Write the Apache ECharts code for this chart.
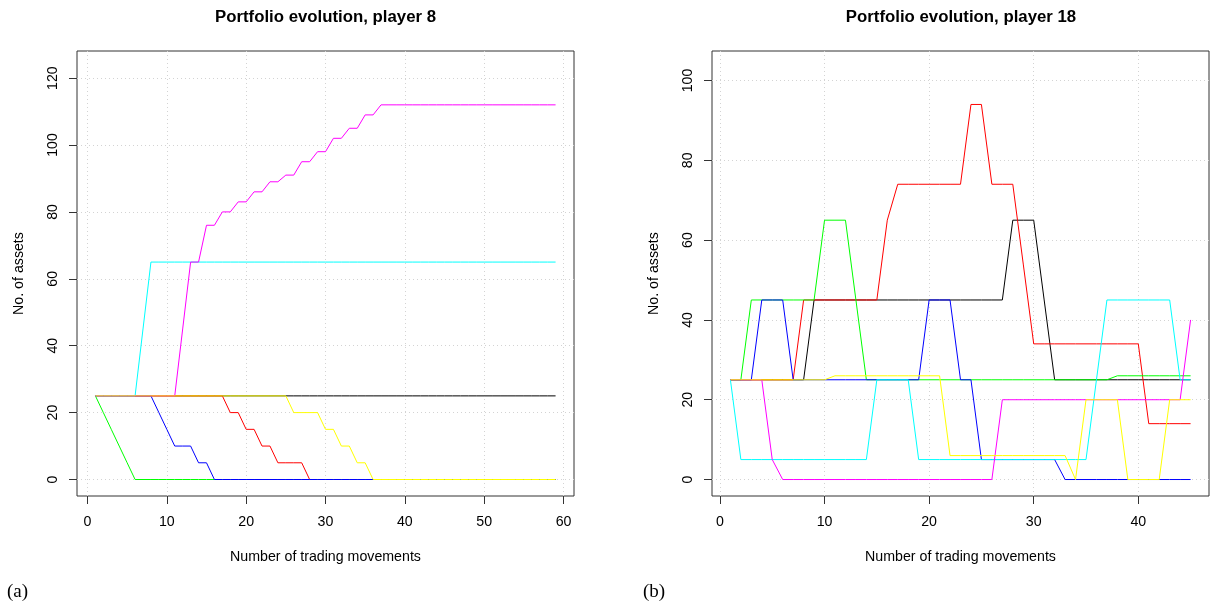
<!DOCTYPE html>
<html>
<head>
<meta charset="utf-8">
<script src="https://cdn.jsdelivr.net/npm/echarts@6/dist/echarts.min.js"></script>
<style>
html,body{margin:0;padding:0;background:#fff;}
#chart{width:1210px;height:603px;}
</style>
</head>
<body>
<div id="chart"></div>
<script>
// ---------- Data: player 8 (panel a), steps 1..59 ----------
const p8_black = [25,25,25,25,25,25,25,25,25,25,25,25,25,25,25,25,25,25,25,25,25,25,25,25,25,25,25,25,25,25,25,25,25,25,25,25,25,25,25,25,25,25,25,25,25,25,25,25,25,25,25,25,25,25,25,25,25,25,25];
const p8_red = [25,25,25,25,25,25,25,25,25,25,25,25,25,25,25,25,25,20,20,15,15,10,10,5,5,5,5,0,0,0,0,0,0,0,0,0,0,0,0,0,0,0,0,0,0,0,0,0,0,0,0,0,0,0,0,0,0,0,0];
const p8_green = [25,20,15,10,5,0,0,0,0,0,0,0,0,0,0,0,0,0,0,0,0,0,0,0,0,0,0,0,0,0,0,0,0,0,0,0,0,0,0,0,0,0,0,0,0,0,0,0,0,0,0,0,0,0,0,0,0,0,0];
const p8_blue = [25,25,25,25,25,25,25,25,20,15,10,10,10,5,5,0,0,0,0,0,0,0,0,0,0,0,0,0,0,0,0,0,0,0,0,0,0,0,0,0,0,0,0,0,0,0,0,0,0,0,0,0,0,0,0,0,0,0,0];
const p8_cyan = [25,25,25,25,25,25,45,65,65,65,65,65,65,65,65,65,65,65,65,65,65,65,65,65,65,65,65,65,65,65,65,65,65,65,65,65,65,65,65,65,65,65,65,65,65,65,65,65,65,65,65,65,65,65,65,65,65,65,65];
const p8_magenta = [25,25,25,25,25,25,25,25,25,25,25,45,65,65,76,76,80,80,83,83,86,86,89,89,91,91,95,95,98,98,102,102,105,105,109,109,112,112,112,112,112,112,112,112,112,112,112,112,112,112,112,112,112,112,112,112,112,112,112];
const p8_yellow = [25,25,25,25,25,25,25,25,25,25,25,25,25,25,25,25,25,25,25,25,25,25,25,25,25,20,20,20,20,15,15,10,10,5,5,0,0,0,0,0,0,0,0,0,0,0,0,0,0,0,0,0,0,0,0,0,0,0,0];

// ---------- Data: player 18 (panel b), steps 1..45 ----------
const p18_black = [25,25,25,25,25,25,25,25,45,45,45,45,45,45,45,45,45,45,45,45,45,45,45,45,45,45,45,65,65,65,45,25,25,25,25,25,25,25,25,25,25,25,25,25,25];
const p18_red = [25,25,25,25,25,25,25,45,45,45,45,45,45,45,45,65,74,74,74,74,74,74,74,94,94,74,74,74,54,34,34,34,34,34,34,34,34,34,34,34,14,14,14,14,14];
const p18_green = [25,25,45,45,45,45,45,45,45,65,65,65,45,25,25,25,25,25,25,25,25,25,25,25,25,25,25,25,25,25,25,25,25,25,25,25,25,26,26,26,26,26,26,26,26];
const p18_blue = [25,25,25,45,45,45,25,25,25,25,25,25,25,25,25,25,25,25,25,45,45,45,25,25,5,5,5,5,5,5,5,5,0,0,0,0,0,0,0,0,0,0,0,0,0];
const p18_cyan = [25,5,5,5,5,5,5,5,5,5,5,5,5,5,25,25,25,25,5,5,5,5,5,5,5,5,5,5,5,5,5,5,5,5,5,25,45,45,45,45,45,45,45,25,25];
const p18_magenta = [25,25,25,25,5,0,0,0,0,0,0,0,0,0,0,0,0,0,0,0,0,0,0,0,0,0,20,20,20,20,20,20,20,20,20,20,20,20,20,20,20,20,20,20,40];
const p18_yellow = [25,25,25,25,25,25,25,25,25,25,26,26,26,26,26,26,26,26,26,26,26,6,6,6,6,6,6,6,6,6,6,6,6,0,20,20,20,20,0,0,0,0,20,20,20];

// ---------- Axis tick labels ----------
const xTicksA = [0,10,20,30,40,50,60];
const yTicksA = [0,20,40,60,80,100,120];
const xTicksB = [0,10,20,30,40];
const yTicksB = [0,20,40,60,80,100];

const titleA = 'Portfolio evolution, player 8';
const titleB = 'Portfolio evolution, player 18';
const xName = 'Number of trading movements';
const yName = 'No. of assets';
const seriesNames = ['black','red','green','blue','cyan','magenta','yellow'];
const colors = ['#000000','#FF0000','#00FF00','#0000FF','#00FFFF','#FF00FF','#FFFF00'];
const seriesA = [p8_black,p8_red,p8_green,p8_blue,p8_cyan,p8_magenta,p8_yellow];
const seriesB = [p18_black,p18_red,p18_green,p18_blue,p18_cyan,p18_magenta,p18_yellow];
</script>
<script>
const FONT = '"Liberation Sans", Arial, Helvetica, sans-serif';
const AX_FS = 14.2;
function pairs(arr){ return arr.map((v,i)=>[i+1,v]); }

function xAxisDef(gridIndex, min, max, ticks){
  return {
    type:'value', gridIndex, min, max, position:'bottom',
    name: xName, nameLocation:'middle', nameGap: 54,
    nameTextStyle:{fontFamily:FONT,fontSize:AX_FS,color:'#000'},
    axisLine:{show:false,onZero:false},
    axisTick:{show:true,inside:false,length:8,customValues:ticks,lineStyle:{color:'#333',width:1}},
    axisLabel:{show:true,margin:19,customValues:ticks,fontFamily:FONT,fontSize:AX_FS,color:'#000'},
    splitLine:{show:true,lineStyle:{color:'#d3d3d3',type:[1,3],width:1}}
  };
}
function yAxisDef(gridIndex, min, max, ticks){
  return {
    type:'value', gridIndex, min, max, position:'left',
    name: yName, nameLocation:'middle', nameGap: 51, nameRotate: 90,
    nameTextStyle:{fontFamily:FONT,fontSize:AX_FS,color:'#000'},
    axisLine:{show:false,onZero:false},
    axisTick:{show:true,inside:false,length:8,customValues:ticks,lineStyle:{color:'#333',width:1}},
    axisLabel:{show:true,rotate:90,margin:17,customValues:ticks,fontFamily:FONT,fontSize:AX_FS,color:'#000'},
    splitLine:{show:true,lineStyle:{color:'#d3d3d3',type:[1,3],width:1}}
  };
}

const series = [];
seriesA.forEach((arr,i)=>series.push({
  name:seriesNames[i], type:'line', xAxisIndex:0, yAxisIndex:0,
  data:pairs(arr), showSymbol:false, symbol:'none', animation:false,
  lineStyle:{color:colors[i],width:1}, itemStyle:{color:colors[i]}, z:2+i
}));
seriesB.forEach((arr,i)=>series.push({
  name:seriesNames[i], type:'line', xAxisIndex:1, yAxisIndex:1,
  data:pairs(arr), showSymbol:false, symbol:'none', animation:false,
  lineStyle:{color:colors[i],width:1}, itemStyle:{color:colors[i]}, z:2+i
}));

const chart = echarts.init(document.getElementById('chart'), null, {renderer:'canvas'});
chart.setOption({
  backgroundColor:'#fff',
  animation:false,
  grid:[
    {left:77, top:51, width:497, height:445, show:true, borderColor:'#333', borderWidth:1, backgroundColor:'transparent'},
    {left:712, top:51, width:497, height:445, show:true, borderColor:'#333', borderWidth:1, backgroundColor:'transparent'}
  ],
  xAxis:[ xAxisDef(0,-1.32,61.32,xTicksA), xAxisDef(1,-0.76,46.76,xTicksB) ],
  yAxis:[ yAxisDef(0,-4.93,128.1,yTicksA), yAxisDef(1,-4.13,107.4,yTicksB) ],
  graphic:[
    {type:'text', x:325.5, y:17, style:{text:titleA, font:'bold 16.8px '+FONT, fill:'#000', textAlign:'center', textVerticalAlign:'middle'}},
    {type:'text', x:961, y:17, style:{text:titleB, font:'bold 16.8px '+FONT, fill:'#000', textAlign:'center', textVerticalAlign:'middle'}},
    {type:'text', x:7, y:592, style:{text:'(a)', font:'19px "Liberation Serif", "Times New Roman", serif', fill:'#000', textAlign:'left', textVerticalAlign:'middle'}},
    {type:'text', x:643, y:592, style:{text:'(b)', font:'19px "Liberation Serif", "Times New Roman", serif', fill:'#000', textAlign:'left', textVerticalAlign:'middle'}}
  ],
  series
});
</script>
</body>
</html>
